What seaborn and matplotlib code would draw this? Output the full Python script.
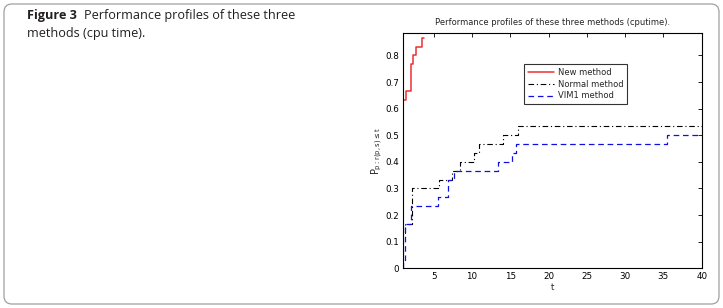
import matplotlib
matplotlib.use("Agg")
import matplotlib.pyplot as plt
from matplotlib.patches import FancyBboxPatch
import pandas as pd
import seaborn as sns

# performance profile data (t, fraction of problems)
new_t = [1.0, 1.0, 1.39, 2.04, 2.35, 2.66, 3.52, 3.78]
new_rho = [0.0, 0.633, 0.667, 0.767, 0.800, 0.833, 0.867, 0.867]

normal_t = [1.0, 1.0, 1.28, 2.14, 5.74, 7.35, 8.44, 10.25, 10.96, 14.1, 16.05, 40.0]
normal_rho = [0.0, 0.133, 0.167, 0.300, 0.333, 0.367, 0.400, 0.433, 0.467, 0.500, 0.533, 0.533]

vim1_t = [1.0, 1.0, 1.26, 2.05, 5.6, 6.9, 7.7, 13.4, 15.2, 15.8, 35.5, 40.0]
vim1_rho = [0.0, 0.033, 0.167, 0.233, 0.267, 0.333, 0.367, 0.400, 0.433, 0.467, 0.500, 0.500]

methods = ["New method", "Normal method", "VIM1 method"]
xticks = [5, 10, 15, 20, 25, 30, 35, 40]
yticks = [0, 0.1, 0.2, 0.3, 0.4, 0.5, 0.6, 0.7, 0.8]

sns.set_style("white")
plt.rcParams["font.family"] = ["DejaVu Sans"]
plt.rcParams["mathtext.default"] = "regular"

W, H = 723, 308
fig = plt.figure(figsize=(W / 100, H / 100), dpi=100)

# rounded frame round the whole figure box
frame = FancyBboxPatch((4, 4), W - 8, H - 8, boxstyle="round,pad=0,rounding_size=8",
                       transform=None, fill=False, edgecolor="#a0a0a0", linewidth=0.9)
fig.patches.append(frame)

# caption: bold label, then the rest placed right after it
cap_font = ["Open Sans", "DejaVu Sans"]
cap_size = 9.1
renderer = fig.canvas.get_renderer()
lab = fig.text(27 / W, 1 - 16 / H, "Figure 3", fontsize=cap_size, fontweight="bold",
               family=cap_font, color="#231f20", va="center", ha="left")
x_end = lab.get_window_extent(renderer).x1
fig.text((x_end + 7) / W, 1 - 16 / H, "Performance profiles of these three", fontsize=cap_size,
         family=cap_font, color="#231f20", va="center", ha="left")
fig.text(27 / W, 1 - 34 / H, "methods (cpu time).", fontsize=cap_size,
         family=cap_font, color="#231f20", va="center", ha="left")

ax = fig.add_axes([403 / W, 1 - 268.3 / H, 298.7 / W, 235 / H])

series = [
    (new_t, new_rho, "#ec3030", "-", 1.1),
    (normal_t, normal_rho, "black", (0, (5, 2.5, 1, 2.5)), 0.8),
    (vim1_t, vim1_rho, "#1010e0", (0, (4.5, 3)), 0.9),
]
for (t, rho, color, ls, lw), name in zip(series, methods):
    df = pd.DataFrame({"t": t, "rho": rho})
    sns.lineplot(data=df, x="t", y="rho", ax=ax, color=color, linestyle=ls, linewidth=lw,
                 drawstyle="steps-post", sort=False, estimator=None, label=name)

ax.set_xlim(1, 40)
ax.set_ylim(0, 0.883)
ax.set_xticks(xticks)
ax.set_yticks(yticks)
ax.set_yticklabels([f"{v:g}" for v in yticks])
ax.tick_params(direction="in", length=3, width=0.6, labelsize=6.3, top=True, right=True,
               pad=3, colors="black")
for s in ax.spines.values():
    s.set_linewidth(0.8)
    s.set_color("black")
ax.set_xlabel("t", fontsize=6.3, labelpad=1)
ax.set_ylabel(r"$P_{p:r(p,s)\leq t}$", fontsize=7, labelpad=0)
ax.set_title("Performance profiles of these three methods (cputime).", fontsize=6.0, pad=6)

leg = ax.legend(loc="upper left", bbox_to_anchor=(0.406, 0.868), borderaxespad=0,
                fontsize=6.0, frameon=True, fancybox=False, handlelength=3.2,
                handletextpad=0.5, borderpad=0.4, labelspacing=0.35)
leg.get_frame().set_edgecolor("black")
leg.get_frame().set_linewidth(0.8)

fig.savefig("out.png", dpi=100)
